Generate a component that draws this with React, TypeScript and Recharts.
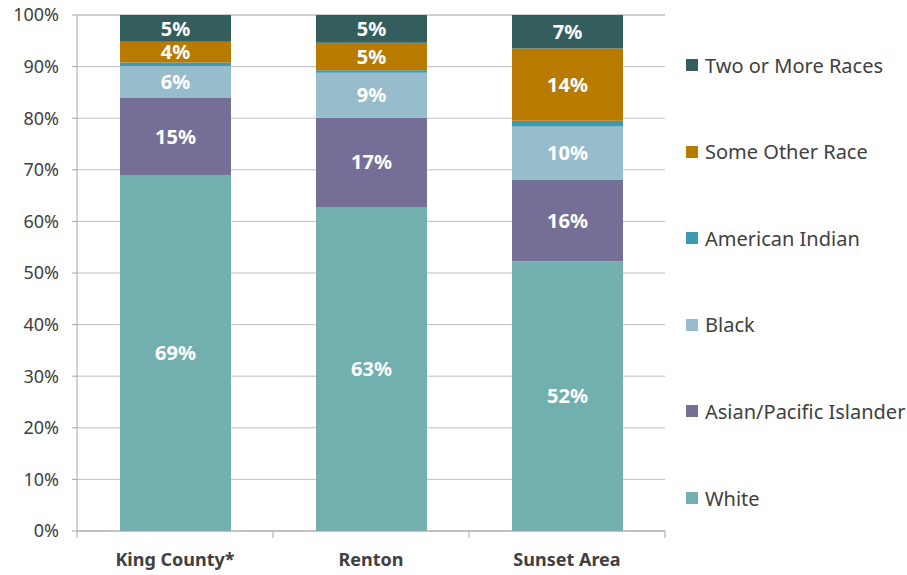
import React from 'react'
import {
  BarChart,
  Bar,
  CartesianGrid,
  XAxis,
  YAxis,
  Legend,
  LabelList,
} from 'recharts'

const categories = ['King County*', 'Renton', 'Sunset Area']

const white = [69.0, 62.8, 52.3]
const asian = [14.9, 17.3, 15.7]
const black = [6.2, 8.7, 10.4]
const americanIndian = [0.7, 0.5, 1.1]
const otherRace = [4.0, 5.3, 14.0]
const twoOrMore = [5.2, 5.4, 6.5]

const yTicks = [0, 10, 20, 30, 40, 50, 60, 70, 80, 90, 100]

// bottom to top
const series = [
  { key: 'white', name: 'White', values: white, color: '#72B0B0', label: true },
  { key: 'asian', name: 'Asian/Pacific Islander', values: asian, color: '#756F98', label: true },
  { key: 'black', name: 'Black', values: black, color: '#97BCCB', label: true },
  { key: 'amind', name: 'American Indian', values: americanIndian, color: '#3F99B0', label: false },
  { key: 'other', name: 'Some Other Race', values: otherRace, color: '#B97A00', label: true },
  { key: 'two', name: 'Two or More Races', values: twoOrMore, color: '#335E5D', label: true },
]

const chartData = categories.map((name, i) => {
  const row: Record<string, string | number> = { name }
  series.forEach((s) => {
    row[s.key] = s.values[i]
  })
  return row
})

const FONT = '"Noto Sans", sans-serif'
const TEXT = '#404040'
const BAND = 196

const CategoryTick = (props: any) => {
  const { x, y, payload, index } = props
  return (
    <g>
      <line x1={x - BAND / 2} y1={y} x2={x - BAND / 2} y2={y + 7} stroke="#A6A6A6" />
      {index === categories.length - 1 && (
        <line x1={x + BAND / 2} y1={y} x2={x + BAND / 2} y2={y + 7} stroke="#A6A6A6" />
      )}
      <text
        x={x}
        y={y + 35}
        textAnchor="middle"
        fill={TEXT}
        fontFamily={FONT}
        fontWeight={700}
        fontSize={18}
      >
        {payload.value}
      </text>
    </g>
  )
}

// legend rows, top to bottom, centred 86.6px apart starting at y=65
const SideLegend = () => (
  <div style={{ position: 'relative', height: 575, fontFamily: FONT }}>
    {[...series].reverse().map((s, i) => (
      <div
        key={s.key}
        style={{
          position: 'absolute',
          left: 0,
          top: 65 + i * 86.6 - 14,
          height: 28,
          display: 'flex',
          alignItems: 'center',
        }}
      >
        <span
          style={{ display: 'inline-block', width: 12, height: 12, background: s.color, marginRight: 7 }}
        />
        <span style={{ fontSize: 20, color: TEXT, whiteSpace: 'nowrap' }}>{s.name}</span>
      </div>
    ))}
  </div>
)

export default function App() {
  return (
    <div style={{ position: 'absolute', left: 0, top: 0, width: 907, height: 575, background: '#fff' }}>
      <BarChart
        width={907}
        height={575}
        data={chartData}
        margin={{ top: 15, right: 242, bottom: 0, left: 0 }}
      >
        <CartesianGrid vertical={false} stroke="#BFBFBF" />
        <XAxis
          dataKey="name"
          height={44}
          stroke="#A6A6A6"
          tickLine={false}
          tickSize={0}
          tickMargin={0}
          interval={0}
          tick={<CategoryTick />}
        />
        <YAxis
          width={77}
          domain={[0, 100]}
          ticks={yTicks}
          interval={0}
          stroke="#A6A6A6"
          tickSize={5}
          tickMargin={13}
          tickFormatter={(v) => `${v}%`}
          tick={{ fill: TEXT, fontFamily: FONT, fontSize: 18 }}
        />
        <Legend
          layout="vertical"
          align="center"
          verticalAlign="middle"
          content={<SideLegend />}
          wrapperStyle={{ position: 'absolute', left: 686, top: 0, width: 221, height: 575 }}
        />
        {series.map((s) => (
          <Bar
            key={s.key}
            dataKey={s.key}
            name={s.name}
            stackId="a"
            fill={s.color}
            barSize={111}
            isAnimationActive={false}
          >
            {s.label && (
              <LabelList
                dataKey={s.key}
                position="center"
                fill="#FFFFFF"
                fontFamily={FONT}
                fontWeight={700}
                fontSize={20}
                formatter={(v: any) => `${Math.round(Number(v))}%`}
              />
            )}
          </Bar>
        ))}
      </BarChart>
    </div>
  )
}
